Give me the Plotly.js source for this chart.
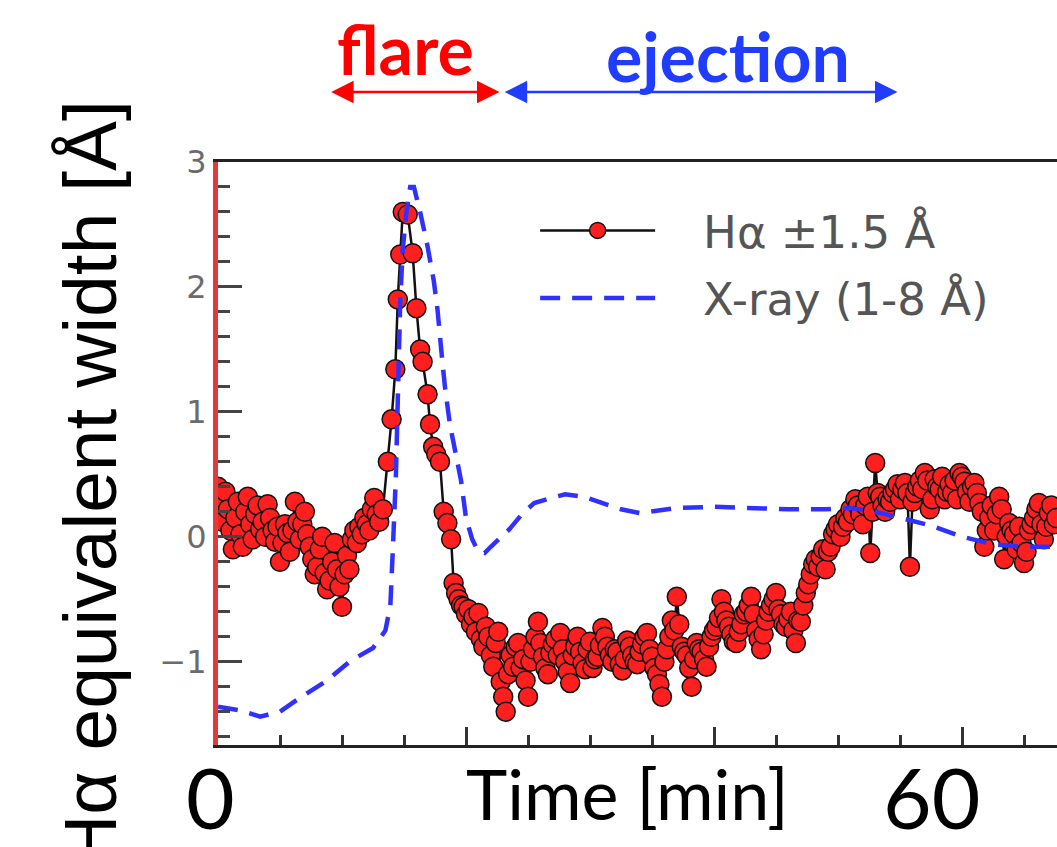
<!DOCTYPE html>
<html>
<head>
<meta charset="utf-8">
<script src="https://cdn.plot.ly/plotly-3.0.1.min.js"></script>
<style>html,body{margin:0;padding:0;background:#fff;}#chart{width:1057px;height:847px;}</style>
</head>
<body>
<div id="chart"></div>
<script>
// H-alpha equivalent width (±1.5 Å) versus time in minutes
const timeHa = [
  0.0,0.2,0.4,0.6,0.8,1.0,1.2,1.4,1.6,1.8,
  2.0,2.2,2.4,2.6,2.8,3.0,3.2,3.4,3.6,3.8,
  4.0,4.2,4.4,4.6,4.8,5.0,5.2,5.4,5.6,5.8,
  6.0,6.2,6.4,6.6,6.8,7.0,7.2,7.4,7.6,7.8,
  8.0,8.2,8.4,8.6,8.8,9.0,9.2,9.4,9.6,9.8,
  10.0,10.2,10.4,10.6,10.8,11.0,11.2,11.4,11.6,11.8,
  12.0,12.2,12.4,12.6,12.8,
  13.0,13.3,13.7,14.0,14.3,14.5,14.7,14.9,15.3,15.7,
  16.0,16.3,16.5,16.9,17.1,17.35,17.6,17.9,18.2,18.5,18.8,
  19.0,19.2,19.4,19.6,19.8,20.0,20.2,20.4,20.6,20.8,
  21.0,21.2,21.4,21.6,21.8,22.0,22.2,22.4,22.6,22.8,
  23.0,23.2,23.4,23.6,23.8,24.0,24.2,24.4,24.6,24.8,
  25.0,25.2,25.4,25.6,25.8,26.0,26.2,26.4,26.6,26.8,
  27.0,27.2,27.4,27.6,27.8,28.0,28.2,28.4,28.6,28.8,
  29.0,29.2,29.4,29.6,29.8,30.0,30.2,30.4,30.6,30.8,
  31.0,31.2,31.4,31.6,31.8,32.0,32.2,32.4,32.6,32.8,
  33.0,33.2,33.4,33.6,33.8,34.0,34.2,34.4,34.6,34.8,
  35.0,35.2,35.4,35.6,35.8,36.0,36.2,36.4,36.6,36.8,
  37.0,37.2,37.4,37.6,37.8,38.0,38.2,38.4,38.6,38.8,
  39.0,39.2,39.4,39.6,39.8,40.0,40.2,40.4,40.6,40.8,
  41.0,41.2,41.4,41.6,41.8,42.0,42.2,42.4,42.6,42.8,
  43.0,43.2,43.4,43.6,43.8,44.0,44.2,44.4,44.6,44.8,
  45.0,45.2,45.4,45.6,45.8,46.0,46.2,46.4,46.6,46.8,
  47.0,47.2,47.4,47.6,47.8,48.0,48.2,48.4,48.6,48.8,
  49.0,49.2,49.4,49.6,49.8,50.0,50.2,50.4,50.6,50.8,
  51.0,51.2,51.4,51.6,51.8,52.0,52.2,52.4,52.6,52.8,
  53.0,53.2,53.4,53.6,53.8,54.0,54.2,54.4,54.6,54.8,
  55.0,55.2,55.4,55.6,55.8,56.0,56.2,56.4,56.6,56.8,
  57.0,57.2,57.4,57.6,57.8,58.0,58.2,58.4,58.6,58.8,
  59.0,59.2,59.4,59.6,59.8,60.0,60.2,60.4,60.6,60.8,
  61.0,61.2,61.4,61.6,61.8,62.0,62.2,62.4,62.6,62.8,
  63.0,63.2,63.4,63.6,63.8,64.0,64.2,64.4,64.6,64.8,
  65.0,65.2,65.4,65.6,65.8,66.0,66.2,66.4,66.6,66.8,
  67.0,67.2,67.4,67.6
];
const ewHa = [
  0.40,0.30,0.12,0.36,0.22,0.05,-0.10,0.15,0.28,0.02,
  -0.08,0.20,0.32,0.10,-0.02,0.18,0.25,0.06,0.12,0.00,
  0.26,0.15,0.05,-0.04,0.08,-0.20,-0.05,0.10,0.03,-0.12,
  0.05,0.28,0.12,-0.02,0.10,0.20,0.02,-0.08,-0.18,-0.30,
  -0.24,-0.10,0.00,-0.29,-0.42,-0.35,-0.20,-0.05,-0.26,-0.40,
  -0.56,-0.30,-0.15,-0.26,-0.02,0.05,-0.05,0.08,0.02,0.15,
  0.10,0.05,0.22,0.31,0.18,
  0.12,0.22,0.60,0.94,1.34,1.90,2.26,2.60,2.58,2.27,
  1.83,1.50,1.40,1.14,0.90,0.72,0.66,0.60,0.20,0.11,-0.02,
  -0.37,-0.45,-0.50,-0.55,-0.56,-0.62,-0.58,-0.70,-0.64,-0.76,
  -0.61,-0.82,-0.88,-0.72,-0.80,-0.95,-1.04,-0.85,-0.76,-1.16,
  -1.28,-1.40,-1.10,-0.95,-1.04,-0.88,-0.85,-1.05,-0.98,-1.15,
  -1.28,-1.00,-0.90,-0.80,-0.68,-0.85,-0.96,-1.05,-1.10,-0.93,
  -0.86,-0.82,-0.95,-0.77,-0.90,-1.00,-1.08,-1.17,-0.95,-0.88,
  -0.80,-0.92,-1.01,-1.06,-0.90,-0.84,-1.05,-0.98,-0.96,-0.87,
  -0.73,-0.80,-0.88,-0.95,-1.00,-0.90,-0.92,-1.02,-1.07,-0.98,
  -0.83,-0.88,-0.95,-1.00,-1.02,-0.92,-0.86,-0.80,-0.77,-0.90,
  -0.96,-1.05,-1.10,-1.18,-1.28,-1.00,-0.90,-0.80,-0.67,-0.75,
  -0.48,-0.70,-0.88,-0.92,-0.95,-1.05,-1.20,-0.98,-0.85,-0.90,
  -0.92,-0.98,-1.04,-0.88,-0.80,-0.75,-0.72,-0.65,-0.50,-0.60,
  -0.67,-0.72,-0.78,-0.84,-0.85,-0.76,-0.70,-0.62,-0.60,-0.55,
  -0.48,-0.62,-0.75,-0.82,-0.90,-0.78,-0.67,-0.60,-0.55,-0.50,
  -0.45,-0.58,-0.62,-0.70,-0.72,-0.66,-0.60,-0.75,-0.85,-0.67,
  -0.68,-0.55,-0.45,-0.38,-0.30,-0.22,-0.18,-0.24,-0.16,-0.10,
  -0.26,-0.12,-0.08,0.02,0.06,0.10,0.00,0.08,0.15,0.12,
  0.22,0.18,0.30,0.25,0.18,0.10,0.25,0.32,-0.13,0.20,
  0.59,0.35,0.32,0.25,0.20,0.30,0.28,0.35,0.38,0.42,
  0.30,0.38,0.43,0.35,-0.24,0.28,0.35,0.40,0.45,0.38,
  0.51,0.45,0.22,0.30,0.46,0.40,0.38,0.48,0.30,0.36,
  0.42,0.35,0.45,0.30,0.51,0.48,0.44,0.36,0.28,0.40,
  0.43,0.35,0.27,0.20,-0.08,0.05,0.15,0.25,0.05,0.18,
  0.32,0.22,-0.18,0.00,0.11,0.05,0.02,-0.10,0.08,-0.05,
  -0.21,-0.12,0.05,0.10,0.15,0.22,0.27,0.10,-0.02,0.08,
  0.19,0.25,0.10,0.15
];
// GOES X-ray (1-8 Å), normalised to the same scale
const timeXray = [
  0,1.8,3.4,5.0,6.6,8.8,10.6,12.5,13.5,13.9,
  14.1,14.35,14.5,14.7,14.9,15.2,15.5,15.8,16.3,16.85,
  17.4,17.7,18.0,18.3,18.7,19.1,19.6,20.0,20.5,21.0,
  21.5,22.0,22.6,23.5,24.5,25.5,26.5,28.0,29.5,31.0,
  32.5,34.0,35.5,37.0,40.0,43.0,46.0,49.0,51.0,53.0,
  55.0,57.5,60.0,62.5,65.0,68.0
];
const xrayNorm = [
  -1.36,-1.39,-1.44,-1.40,-1.29,-1.15,-1.00,-0.89,-0.75,-0.55,
  -0.10,0.50,1.10,1.90,2.30,2.60,2.80,2.80,2.60,2.35,
  2.05,1.82,1.50,1.20,0.90,0.70,0.45,0.15,-0.02,-0.12,
  -0.13,-0.08,-0.02,0.06,0.18,0.27,0.30,0.34,0.32,0.27,
  0.22,0.19,0.21,0.23,0.24,0.23,0.22,0.22,0.23,0.20,
  0.15,0.09,0.00,-0.06,-0.08,-0.08
];
const yTicks = [-1, 0, 1, 2, 3];
const yTickText = ['\u22121', '0', '1', '2', '3'];
const phaseFlare = [9.0, 22.7];
const phaseEjection = [23.0, 54.8];

const NB = '\u00a0\u00a0\u00a0';
const traces = [
  {
    x: timeHa, y: ewHa, type: 'scatter', mode: 'lines+markers',
    name: NB + 'H\u03b1 \u00b11.5 \u00c5', legendgroup: 'ha',
    line: {color: '#111', width: 2.5},
    marker: {color: '#ff1f1f', size: 19, line: {color: '#111', width: 1.5}}
  },
  {
    x: timeXray, y: xrayNorm, type: 'scatter', mode: 'lines',
    name: NB + 'X-ray (1-8 \u00c5)', legendgroup: 'xr',
    line: {color: '#3030ff', width: 4.5, dash: '20px,12px'}
  }
];

function arrow(range, color) {
  return {text: '', xref: 'x', yref: 'paper', x: range[1], y: 1.12,
    axref: 'x', ayref: 'pixel', ax: range[0], ay: 0,
    showarrow: true, arrowside: 'end+start', arrowhead: 2, startarrowhead: 2,
    arrowsize: 1.8, startarrowsize: 1.8, arrowwidth: 2.5, arrowcolor: color,
    standoff: 0, startstandoff: 0};
}
function label(text, x, y, size, color, extra) {
  return Object.assign({text: text, xref: 'paper', yref: 'paper', x: x, y: y,
    xanchor: 'center', yanchor: 'middle', showarrow: false,
    font: {family: 'Lato, sans-serif', size: size, color: color}}, extra || {});
}

const layout = {
  width: 1057, height: 847,
  margin: {l: 218, r: 0, t: 162, b: 102, pad: 0},
  paper_bgcolor: '#fff', plot_bgcolor: '#fff',
  showlegend: true,
  legend: {
    x: 0.378, y: 0.944, xanchor: 'left', yanchor: 'top',
    bgcolor: 'rgba(0,0,0,0)',
    font: {family: 'DejaVu Sans, sans-serif', size: 45, color: '#555'},
    itemwidth: 115, tracegroupgap: 6
  },
  xaxis: {
    range: [0, 67.66], showgrid: false, zeroline: false,
    showline: true, linecolor: '#222', linewidth: 3, mirror: true,
    ticks: 'inside', ticklen: 18, tickwidth: 3, tickcolor: '#333',
    tick0: 0, dtick: 20, showticklabels: false,
    minor: {dtick: 5, ticks: 'inside', ticklen: 10, tickwidth: 3, tickcolor: '#333'}
  },
  yaxis: {
    range: [-1.667, 3.0], showgrid: false, zeroline: false,
    showline: true, linecolor: '#e03a3a', linewidth: 5,
    ticks: 'inside', ticklen: 24, tickwidth: 3, tickcolor: '#444',
    tickmode: 'array', tickvals: yTicks, ticktext: yTickText,
    tickfont: {family: 'DejaVu Sans, sans-serif', size: 32, color: '#6b6b6b'},
    minor: {dtick: 0.2, tick0: 0, ticks: 'inside', ticklen: 12, tickwidth: 3, tickcolor: '#444'}
  },
  annotations: [
    label('H\u03b1 equivalent width [\u00c5]', -0.152, 0.447, 75, '#000',
      {textangle: -90, font: {family: 'Liberation Sans, Arial, sans-serif', size: 75, color: '#000'}}),
    label('0', -0.0095, -0.089, 84, '#000'),
    label('60', 0.851, -0.089, 84, '#000'),
    label('Time [min]', 0.4875, -0.083, 70, '#000'),
    label('flare', 0.223, 1.195, 68, '#ff0000',
      {font: {family: 'Lato, sans-serif', size: 68, color: '#ff0000', weight: 700}}),
    label('ejection', 0.608, 1.183, 68, '#1f3cff',
      {font: {family: 'Lato, sans-serif', size: 68, color: '#1f3cff', weight: 700}}),
    arrow(phaseFlare, '#ff0000'),
    arrow(phaseEjection, '#1f3cff')
  ]
};

Plotly.newPlot('chart', traces, layout, {displayModeBar: false, staticPlot: true});
</script>
</body>
</html>
